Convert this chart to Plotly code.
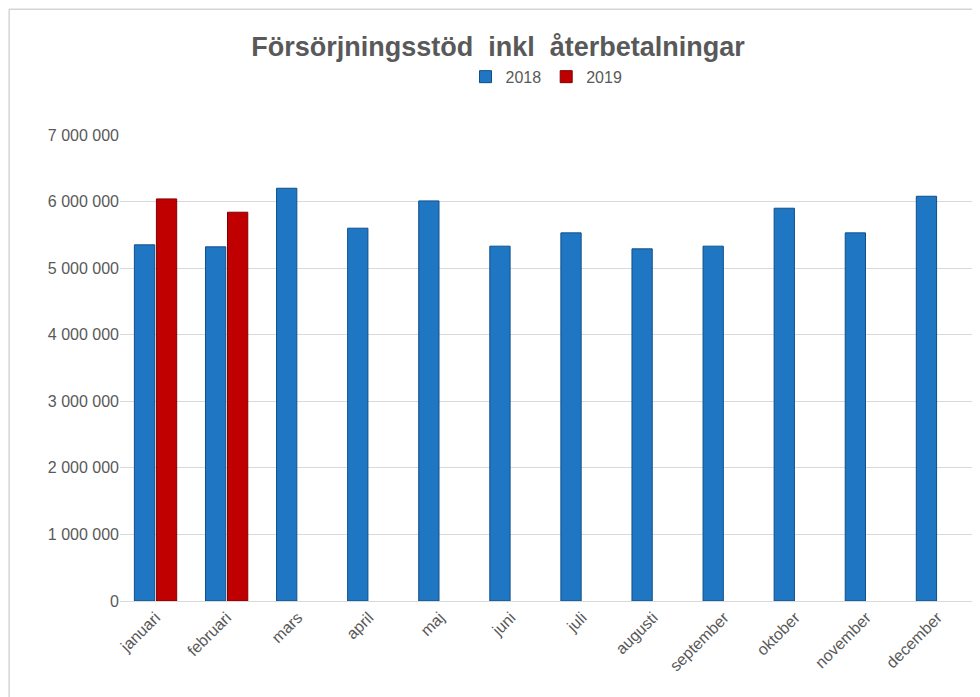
import plotly.graph_objects as go

months = ["januari","februari","mars","april","maj","juni","juli","augusti","september","oktober","november","december"]
v2018 = [5350000,5320000,6200000,5600000,6010000,5330000,5530000,5290000,5330000,5900000,5530000,6080000]
v2019 = [6040000,5840000,None,None,None,None,None,None,None,None,None,None]
tickvals = [0,1000000,2000000,3000000,4000000,5000000,6000000,7000000]
ticktext = ["0","1 000 000","2 000 000","3 000 000","4 000 000","5 000 000","6 000 000","7 000 000"]

fig = go.Figure()
fig.add_bar(x=months, y=v2018, name="2018", marker=dict(color="#1f77c4", line=dict(color="#0f4f8a", width=1)))
fig.add_bar(x=months, y=v2019, name="2019", marker=dict(color="#c00000", line=dict(color="#800000", width=1)))
fig.update_layout(
    width=980, height=697, barmode="group", bargap=0.38, bargroupgap=0.08,
    paper_bgcolor="white", plot_bgcolor="white",
    font=dict(family="Liberation Sans, Arial", color="#595959", size=16),
    title=dict(text="<b>Försörjningsstöd  inkl  återbetalningar</b>", x=0.5, y=0.945, xanchor="center",
               yanchor="middle", font=dict(size=27, color="#595959")),
    legend=dict(orientation="h", x=0.5, xanchor="center", y=1.125, yanchor="middle", font=dict(size=16)),
    margin=dict(l=112, r=15, t=127, b=104, autoexpand=False),
    yaxis=dict(range=[0,7000000], tickvals=tickvals, ticktext=ticktext, gridcolor="#d9d9d9",
               zeroline=False, ticks="", showline=False, automargin=False),
    xaxis=dict(tickangle=-45, showline=True, linecolor="#d9d9d9", ticks="", automargin=False),
    shapes=[dict(type="rect", xref="paper", yref="paper", x0=-0.130, x1=1.0164, y0=-0.221, y1=1.270,
                 line=dict(color="#bfbfbf", width=1))]
)
fig.write_html("out.html")
